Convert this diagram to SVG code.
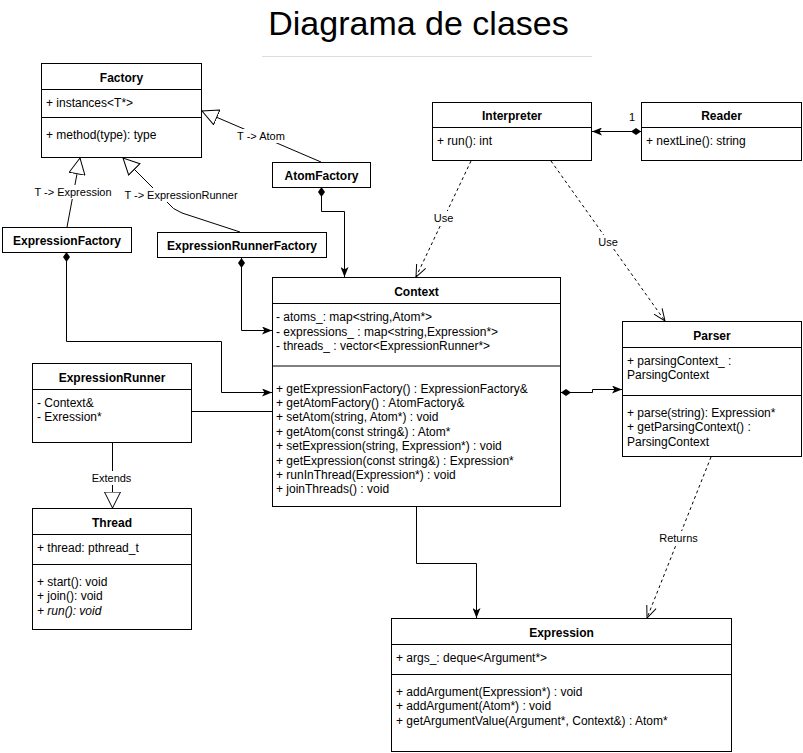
<svg xmlns="http://www.w3.org/2000/svg" width="803" height="753" viewBox="0 0 803 753">
<style>
.box{fill:#fff;stroke:#000;stroke-width:1}
.sep{stroke:#000;stroke-width:1}
.sepg{stroke:#808080;stroke-width:2}
text{font-family:"Liberation Sans",Arial,Helvetica,sans-serif;font-size:12px;fill:#000}
.t{font-weight:bold;text-anchor:middle}
.lbl{font-size:11px;text-anchor:middle}
.bg{fill:#fff;stroke:none}
.c{fill:none;stroke:#000;stroke-width:1}
.d{fill:none;stroke:#000;stroke-width:1;stroke-dasharray:3,3}
.title{font-size:34px;text-anchor:middle}
</style>
<defs>
<marker id="gen" viewBox="0 0 17 17" refX="16.5" refY="8.5" markerWidth="17" markerHeight="17" markerUnits="userSpaceOnUse" orient="auto"><path d="M0.5,0.5 L16.5,8.5 L0.5,16.5 Z" fill="#fff" stroke="#000" stroke-width="1"/></marker>
<marker id="open" viewBox="0 0 14 12" refX="13" refY="6" markerWidth="14" markerHeight="12" markerUnits="userSpaceOnUse" orient="auto"><path d="M1,1 L13,6 L1,11" fill="none" stroke="#000" stroke-width="1"/></marker>
<marker id="arr" viewBox="0 0 10 8" refX="10" refY="4" markerWidth="10" markerHeight="8" markerUnits="userSpaceOnUse" orient="auto"><path d="M0,0 L10,4 L0,8 L2.5,4 Z" fill="#000"/></marker>
<marker id="dia" viewBox="0 0 10 7" refX="0" refY="3.5" markerWidth="10" markerHeight="7" markerUnits="userSpaceOnUse" orient="auto"><path d="M0,3.5 L5,0 L10,3.5 L5,7 Z" fill="#000"/></marker>
</defs>

<text class="title" x="418.5" y="35">Diagrama de clases</text>
<line x1="262" y1="56.5" x2="592" y2="56.5" stroke="#ddd" stroke-width="1"/>

<g id="connectors">
<path class="c" d="M321,162 L202,111" marker-end="url(#gen)"/>
<path class="c" d="M67,227 L80,158" marker-end="url(#gen)"/>
<path class="c" d="M240,232 L182,213 Q172,209 168,203 L123,158" marker-end="url(#gen)"/>
<path class="c" d="M641,131.5 L592,131.5" marker-start="url(#dia)" marker-end="url(#arr)"/>
<path class="d" d="M471,161 L416,277" marker-end="url(#open)"/>
<path class="d" d="M551,161 L665,321" marker-end="url(#open)"/>
<path class="c" d="M321.5,187 L321.5,211.5 L344.5,211.5 L344.5,277" marker-start="url(#dia)" marker-end="url(#arr)"/>
<path class="c" d="M66.5,252 L66.5,341.5 L221.5,341.5 L221.5,392.5 L272,392.5" marker-start="url(#dia)" marker-end="url(#arr)"/>
<path class="c" d="M241.5,258 L241.5,330.5 L272,330.5" marker-start="url(#dia)" marker-end="url(#arr)"/>
<path class="c" d="M192,411.5 L272,411.5"/>
<path class="c" d="M112.5,443 L112.5,508" marker-end="url(#gen)"/>
<path class="c" d="M561,392.5 L592.5,392.5 L592.5,389.5 L622,389.5" marker-start="url(#dia)" marker-end="url(#arr)"/>
<path class="c" d="M416.5,507 L416.5,563.5 L476.5,563.5 L476.5,618" marker-end="url(#arr)"/>
<path class="d" d="M711,457 L647,618" marker-end="url(#open)"/>

<rect class="bg" x="236" y="129" width="50" height="14"/>
<text class="lbl" x="261" y="140">T -&gt; Atom</text>
<rect class="bg" x="34" y="185" width="78" height="14"/>
<text class="lbl" x="73" y="196">T -&gt; Expression</text>
<rect class="bg" x="121" y="188" width="120" height="14"/>
<text class="lbl" x="181" y="199">T -&gt; ExpressionRunner</text>
<rect class="bg" x="433" y="211" width="21" height="14"/>
<text class="lbl" x="443.5" y="222">Use</text>
<rect class="bg" x="597" y="235" width="22" height="14"/>
<text class="lbl" x="608" y="246">Use</text>
<rect class="bg" x="91" y="471" width="41" height="14"/>
<text class="lbl" x="111.5" y="482">Extends</text>
<rect class="bg" x="658" y="531" width="41" height="14"/>
<text class="lbl" x="678.5" y="542">Returns</text>
<text class="lbl" x="632" y="121">1</text>
</g>

<g id="Factory">
<rect class="box" x="41.5" y="63.5" width="160" height="94"/>
<line class="sep" x1="41.5" y1="89.5" x2="201.5" y2="89.5"/>
<line class="sep" x1="41.5" y1="117.5" x2="201.5" y2="117.5"/>
<text class="t" x="121.5" y="82">Factory</text>
<text x="46" y="107">+ instances&lt;T*&gt;</text>
<text x="46" y="139">+ method(type): type</text>
</g>

<g id="AtomFactory">
<rect class="box" x="272.5" y="162.5" width="98" height="25"/>
<text class="t" x="321.5" y="180">AtomFactory</text>
</g>

<g id="ExpressionFactory">
<rect class="box" x="2.5" y="227.5" width="129" height="25"/>
<text class="t" x="67" y="245">ExpressionFactory</text>
</g>

<g id="ExpressionRunnerFactory">
<rect class="box" x="157.5" y="232.5" width="169" height="25"/>
<text class="t" x="242" y="250">ExpressionRunnerFactory</text>
</g>

<g id="Interpreter">
<rect class="box" x="432.5" y="102.5" width="159" height="58"/>
<line class="sep" x1="432.5" y1="127.5" x2="591.5" y2="127.5"/>
<text class="t" x="512" y="120">Interpreter</text>
<text x="437" y="145">+ run(): int</text>
</g>

<g id="Reader">
<rect class="box" x="641.5" y="102.5" width="160" height="58"/>
<line class="sep" x1="641.5" y1="127.5" x2="801.5" y2="127.5"/>
<text class="t" x="721.5" y="120">Reader</text>
<text x="646" y="145">+ nextLine(): string</text>
</g>

<g id="Context">
<rect class="box" x="272.5" y="277.5" width="288" height="229"/>
<line class="sep" x1="272.5" y1="303.5" x2="560.5" y2="303.5"/>
<line class="sepg" x1="273" y1="366" x2="560" y2="366"/>
<text class="t" x="416.5" y="296">Context</text>
<text x="276" y="321">- atoms_: map&lt;string,Atom*&gt;</text>
<text x="276" y="335.5">- expressions_ : map&lt;string,Expression*&gt;</text>
<text x="276" y="350">- threads_ : vector&lt;ExpressionRunner*&gt;</text>
<text x="276" y="392.5">+ getExpressionFactory() : ExpressionFactory&amp;</text>
<text x="276" y="406.9">+ getAtomFactory() : AtomFactory&amp;</text>
<text x="276" y="421.3">+ setAtom(string, Atom*) : void</text>
<text x="276" y="435.7">+ getAtom(const string&amp;) : Atom*</text>
<text x="276" y="450.1">+ setExpression(string, Expression*) : void</text>
<text x="276" y="464.5">+ getExpression(const string&amp;) : Expression*</text>
<text x="276" y="478.9">+ runInThread(Expression*) : void</text>
<text x="276" y="493.3">+ joinThreads() : void</text>
</g>

<g id="Parser">
<rect class="box" x="622.5" y="321.5" width="179" height="135"/>
<line class="sep" x1="622.5" y1="347.5" x2="801.5" y2="347.5"/>
<line class="sep" x1="622.5" y1="395.5" x2="801.5" y2="395.5"/>
<text class="t" x="712" y="340">Parser</text>
<text x="627" y="365">+ parsingContext_ :</text>
<text x="627" y="379">ParsingContext</text>
<text x="627" y="417">+ parse(string): Expression*</text>
<text x="627" y="431">+ getParsingContext() :</text>
<text x="627" y="446">ParsingContext</text>
</g>

<g id="ExpressionRunner">
<rect class="box" x="32.5" y="363.5" width="159" height="79"/>
<line class="sep" x1="32.5" y1="389.5" x2="191.5" y2="389.5"/>
<text class="t" x="112" y="382">ExpressionRunner</text>
<text x="37" y="407">- Context&amp;</text>
<text x="37" y="421">- Exression*</text>
</g>

<g id="Thread">
<rect class="box" x="32.5" y="508.5" width="159" height="121"/>
<line class="sep" x1="32.5" y1="534.5" x2="191.5" y2="534.5"/>
<line class="sep" x1="32.5" y1="564.5" x2="191.5" y2="564.5"/>
<text class="t" x="112" y="527">Thread</text>
<text x="37" y="552">+ thread: pthread_t</text>
<text x="37" y="586">+ start(): void</text>
<text x="37" y="600">+ join(): void</text>
<text x="37" y="615" font-style="italic">+ run(): void</text>
</g>

<g id="Expression">
<rect class="box" x="391.5" y="618.5" width="340" height="133"/>
<line class="sep" x1="391.5" y1="644.5" x2="731.5" y2="644.5"/>
<line class="sep" x1="391.5" y1="674.5" x2="731.5" y2="674.5"/>
<text class="t" x="561.5" y="637">Expression</text>
<text x="396" y="662">+ args_: deque&lt;Argument*&gt;</text>
<text x="396" y="696">+ addArgument(Expression*) : void</text>
<text x="396" y="710">+ addArgument(Atom*) : void</text>
<text x="396" y="725">+ getArgumentValue(Argument*, Context&amp;) : Atom*</text>
</g>
</svg>
